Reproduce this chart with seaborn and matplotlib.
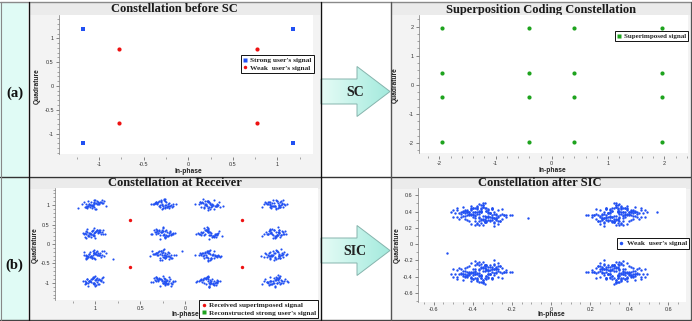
import numpy as np
import pandas as pd
import matplotlib
matplotlib.use("Agg")
import matplotlib.pyplot as plt
import seaborn as sns
from matplotlib.patches import Polygon, Rectangle
from matplotlib.lines import Line2D
from matplotlib.ticker import MultipleLocator, FuncFormatter
from matplotlib.colors import LinearSegmentedColormap

# ---------------- data ----------------
strong_x = [-1.18, 1.18, -1.18, 1.18]
strong_y = [1.19, 1.19, -1.19, -1.19]
weak_x = [-0.78, 0.77, -0.78, 0.77]
weak_y = [0.78, 0.78, -0.77, -0.77]

sc_x_levels = [-1.96, -0.40, 0.40, 1.96]
sc_y_levels = [1.96, 0.41, -0.41, -1.96]

rx_col_centers = [1.02, 0.25, -0.27, -1.00]
rx_row_centers = [1.02, 0.28, -0.28, -0.95]
rx_red_x = [0.62, -0.63, 0.62, -0.63]
rx_red_y = [0.61, 0.61, -0.60, -0.60]
rx_outlier_x = [1.19, 0.80, 0.04]
rx_outlier_y = [0.92, -0.38, -0.18]

sic_col_centers = [-0.36, 0.34]
sic_row_centers = [0.36, -0.34]
sic_outlier_x = [-0.12, -0.53, 0.54]
sic_outlier_y = [0.32, -0.11, 0.39]

# noise offsets read as a typical scatter (hundredths of a unit)
noise_dx = [3, -5, 8, -1, 0, 6, -9, 2, -4, 11, -2, 5, -7, 1, 4, -12, 7, -3, 0, 9,
            -6, 2, -1, 13, -8, 4, -3, 6, -10, 1, 5, -2, 8, -5, 0, -14, 3, 7, -1, -6,
            10, -4, 2, -9, 6, 1, -3, 15, -7, 4, -2, 0, 9, -11, 3, -5, 7, -1, 12, -8,
            2, -4, 5, -6, 1, 8, -13, 3, -2, 6, -9, 0, 4, -3, 11, -7, 2, -1, 5, -10,
            7, -2, 16, -5, 3, -8, 1, 6, -4, 9, -12, 2, -1, 4, -6, 10, -3, 0, 8, -7,
            1, 5, -15, 3, -2, 7, -9, 4, 0, -5, 12, -1, 6, -8, 2, -3, 9, -11, 5, 1,
            -4, 8, -6, 3, -10, 0, 7, -2, 13, -5, 4, -7, 1, 10, -3, 6, -9, 2, -1, 5,
            -8, 11, -4, 3, -14, 7, 0, -6, 9, -2, 4, -12, 6, 1, -5, 8, -3, 2, -7, 0]
noise_dy = [-2, 6, 1, -8, 4, -3, 10, -5, 0, 7, -11, 2, 5, -1, -6, 9, -4, 3, 12, -7,
            1, -9, 4, 0, 6, -2, -13, 8, 3, -5, 2, 11, -6, 0, 7, -3, 5, -10, 1, 4,
            -7, 9, -1, 3, -4, 14, -8, 0, 6, -2, 10, -5, -1, 2, -9, 7, 4, -12, 0, 5,
            8, -3, -6, 1, 12, -4, 2, -7, 9, 0, 3, -10, 6, -1, -5, 4, 15, -2, -8, 1,
            -4, 7, 0, -11, 5, 2, -6, 9, 1, -3, 6, -9, 13, -1, 3, -7, 0, 8, -5, 4,
            10, -2, 3, -8, 1, -14, 5, 2, -6, 11, 0, -4, 7, -1, -9, 3, 6, -5, 2, -12,
            4, 0, -7, 9, -3, 5, 1, -10, -2, 8, 3, -6, 12, 0, -4, 7, -1, -8, 5, 2,
            -5, 1, 9, -3, 6, -9, 4, 0, -11, 3, 7, -2, -6, 10, 1, -4, 8, -7, 0, 5]

titles = ["Constellation before SC", "Superposition Coding Constellation",
          "Constellation at Receiver", "Constellation after SIC"]

# ---------------- build point tables ----------------
n = min(len(noise_dx), len(noise_dy))
dx = np.array(noise_dx[:n]) / 100.0
dy = np.array(noise_dy[:n]) / 100.0
flips = [(1, 1), (-1, 1), (1, -1), (-1, -1)]

df_strong = pd.DataFrame({"x": strong_x, "y": strong_y})
df_weak = pd.DataFrame({"x": weak_x, "y": weak_y})
gx, gy = np.meshgrid(sc_x_levels, sc_y_levels)
df_sc = pd.DataFrame({"x": gx.ravel(), "y": gy.ravel()})

rx_x, rx_y = [], []
k = 0
for cy in rx_row_centers:
    for cx in rx_col_centers:
        idx = (np.arange(45) + k * 37) % n
        sx, sy = flips[k % 4]
        ox, oy = dx[idx], dy[idx]
        if (k // 4) % 2:
            ox, oy = oy, ox
        rx_x += list(cx + sx * ox)
        rx_y += list(cy + sy * oy)
        k += 1
rx_x += rx_outlier_x
rx_y += rx_outlier_y
df_rx = pd.DataFrame({"x": rx_x, "y": rx_y})
df_rx_red = pd.DataFrame({"x": rx_red_x, "y": rx_red_y})

sic_x, sic_y = [], []
k = 0
for cy in sic_row_centers:
    for cx in sic_col_centers:
        sx, sy = flips[k % 4]
        sic_x += list(cx + sx * dx)
        sic_y += list(cy + sy * dy)
        k += 1
sic_x += sic_outlier_x
sic_y += sic_outlier_y
df_sic = pd.DataFrame({"x": sic_x, "y": sic_y})

# ---------------- style ----------------
sns.set_style("white")
plt.rcParams["font.family"] = ["Liberation Sans", "DejaVu Sans"]
plt.rcParams["axes.unicode_minus"] = False

BLUE = "#2150f2"
RED = "#ee1111"
GREEN = "#1ea31e"
SERIF = ["Liberation Serif", "DejaVu Serif"]

W, H = 692, 321
fig = plt.figure(figsize=(W / 100, H / 100), dpi=100)
fig.patch.set_facecolor("white")
bg = fig.add_axes([0, 0, 1, 1], zorder=-10)
bg.axis("off")


def rect(x0, y0, x1, y1, color):
    bg.add_patch(Rectangle((x0, y0), x1 - x0, y1 - y0, facecolor=color,
                           edgecolor="none", zorder=1))


rect(0, 2, 28, 320, "#e0fbf5")
for (x0, x1) in [(29, 320), (391, 690)]:
    for (y0, y1) in [(3, 176), (177, 319)]:
        rect(x0, y0, x1, y1, "#f3f3f3")
        rect(x0, y0, x1, y0 + 12, "#ebebeb")

# frame lines
bg.plot([0, 691], [1.5, 1.5], color="#8a8a8a", lw=1.0, zorder=5)
bg.plot([0, 691], [319.5, 319.5], color="#444444", lw=1.0, zorder=5)
bg.plot([0, 691], [176.5, 176.5], color="#333333", lw=1.0, zorder=5)
bg.plot([28.5, 28.5], [1.5, 320], color="#111111", lw=1.0, zorder=5)
bg.plot([320.5, 320.5], [1.5, 320], color="#111111", lw=1.0, zorder=5)
bg.plot([391, 391], [1.5, 320], color="#555555", lw=1.0, zorder=5)
bg.plot([690.5, 690.5], [1.5, 320], color="#555555", lw=1.0, zorder=5)
bg.plot([0.5, 0.5], [1.5, 320], color="#888888", lw=0.8, zorder=5)

# arrows
cmap = LinearSegmentedColormap.from_list("aq", ["#e6fcf6", "#a3eadd"])
grad = np.linspace(0, 1, 256).reshape(1, -1)
for (cyc, label) in [(91.5, "SC"), (250.5, "SIC")]:
    pts = [(321, cyc - 12.5), (357, cyc - 12.5), (357, cyc - 25), (390, cyc),
           (357, cyc + 25), (357, cyc + 12.5), (321, cyc + 12.5)]
    poly = Polygon(pts, closed=True, facecolor="none", edgecolor="#86b4ad",
                   lw=0.7, zorder=4)
    bg.add_patch(poly)
    im = bg.imshow(grad, extent=(321, 390, cyc + 25, cyc - 25), cmap=cmap,
                   aspect="auto", zorder=3)
    im.set_clip_path(poly)
    bg.text(355, cyc + 1, label, fontsize=10, fontweight="bold", family=SERIF,
            ha="center", va="center", color="#222222", zorder=6)

bg.text(14.5, 93, "(a)", fontsize=10.5, fontweight="bold", family=SERIF,
        ha="center", va="center", color="#111111", zorder=6)
bg.text(14.5, 265, "(b)", fontsize=10.5, fontweight="bold", family=SERIF,
        ha="center", va="center", color="#111111", zorder=6)

title_pos = [(174.5, 9.5), (540.5, 9.5), (174.5, 183.5), (539.5, 183.5)]
for t, (tx, ty) in zip(titles, title_pos):
    bg.text(tx, ty, t, fontsize=9, fontweight="bold", family=SERIF,
            ha="center", va="center", color="#1a1a1a", zorder=6)

bg.set_xlim(0, W)
bg.set_ylim(H, 0)


def px_axes(x0, y0, x1, y1):
    return fig.add_axes([x0 / W, 1 - y1 / H, (x1 - x0) / W, (y1 - y0) / H])


def fmt(v, p):
    if abs(v) < 1e-9:
        return "0"
    return "%g" % round(v, 4)


def fmt_pos_only(v, p):
    # labels right of 0 lie beneath the legend in the reference
    if v < -1e-9:
        return ""
    return fmt(v, p)


def style(ax, box, xmaj, xmin, ymaj, ymin, xlab_px, ylab_px, outward, xfmt=fmt):
    x0, y0, x1, y1 = box
    ax.set_facecolor("white")
    for s in ["top", "right", "bottom"]:
        ax.spines[s].set_visible(False)
    ax.spines["left"].set_color("#777777")
    ax.spines["left"].set_linewidth(0.5)
    ax.spines["bottom"].set_position(("outward", outward))
    ax.xaxis.set_major_locator(MultipleLocator(xmaj))
    ax.xaxis.set_minor_locator(MultipleLocator(xmin))
    ax.yaxis.set_major_locator(MultipleLocator(ymaj))
    ax.yaxis.set_minor_locator(MultipleLocator(ymin))
    ax.xaxis.set_major_formatter(FuncFormatter(xfmt))
    ax.yaxis.set_major_formatter(FuncFormatter(fmt))
    ax.tick_params(which="major", direction="out", length=2.5, width=0.5,
                   color="#555555", labelsize=4, labelcolor="#333333", pad=1.2,
                   bottom=True, left=True)
    ax.tick_params(which="minor", direction="out", length=1.5, width=0.4,
                   color="#666666", bottom=True, left=True)
    ax.set_xlabel("In-phase", fontsize=4.8, fontweight="bold", color="#222222")
    ax.set_ylabel("Quadrature", fontsize=4.8, fontweight="bold", color="#222222")
    ax.xaxis.label.set_va("center")
    ax.yaxis.label.set_va("center")
    ax.yaxis.label.set_ha("center")
    ax.xaxis.set_label_coords((xlab_px[0] - x0) / (x1 - x0),
                              (y1 - xlab_px[1]) / (y1 - y0))
    ax.yaxis.set_label_coords((ylab_px[0] - x0) / (x1 - x0),
                              (y1 - ylab_px[1]) / (y1 - y0))


def legend(ax, handles, labels, corner_px, size=5.3):
    ax.legend(handles, labels, loc="upper right",
              bbox_to_anchor=(corner_px[0] / W, 1 - corner_px[1] / H),
              bbox_transform=fig.transFigure, frameon=True, fancybox=False,
              edgecolor="#111111", facecolor="white", framealpha=1,
              borderpad=0.3, labelspacing=0.2, handlelength=0.5,
              handletextpad=0.45, borderaxespad=0,
              prop={"family": SERIF, "weight": "bold", "size": size})
    ax.get_legend().get_frame().set_linewidth(0.7)


def proxy(marker, color):
    return Line2D([], [], linestyle="none", marker=marker, markersize=2.5,
                  markerfacecolor=color, markeredgecolor="none")


# ---- (a) left ----
boxA = (59, 15, 313, 154)
axA = px_axes(*boxA)
sns.scatterplot(data=df_strong, x="x", y="y", ax=axA, color=BLUE, marker="s",
                s=11, linewidth=0, legend=False)
sns.scatterplot(data=df_weak, x="x", y="y", ax=axA, color=RED, marker="o",
                s=9, linewidth=0, legend=False)
axA.set_xlim(-1.45, 1.40)
axA.set_ylim(-1.43, 1.49)
style(axA, boxA, 0.5, 0.25, 0.5, 0.1, (188, 171), (37, 86), 2)
legend(axA, [proxy("s", BLUE), proxy("o", RED)],
       ["Strong user's signal", "Weak  user's signal"], (314, 55))

# ---- (a) right ----
boxB = (419, 15, 688, 153)
axB = px_axes(*boxB)
sns.scatterplot(data=df_sc, x="x", y="y", ax=axB, color=GREEN, marker="o",
                s=9, linewidth=0, legend=False)
axB.set_xlim(-2.36, 2.42)
axB.set_ylim(-2.34, 2.40)
style(axB, boxB, 1, 0.2, 1, 0.25, (552, 171), (395, 85), 2)
legend(axB, [proxy("s", GREEN)], ["Superimposed signal"], (688, 31), size=5.0)

# ---- (b) left ----
boxC = (55, 188, 318, 300)
axC = px_axes(*boxC)
sns.scatterplot(data=df_rx, x="x", y="y", ax=axC, color=BLUE, marker="o",
                s=2.4, linewidth=0, legend=False)
sns.scatterplot(data=df_rx_red, x="x", y="y", ax=axC, color=RED, marker="o",
                s=6, linewidth=0, legend=False)
axC.set_xlim(1.45, -1.48)
axC.set_ylim(-1.44, 1.44)
style(axC, boxC, 0.5, 0.25, 0.5, 0.1, (185, 314), (35, 245), 0.5,
      xfmt=fmt_pos_only)
legend(axC, [proxy("o", RED), proxy("s", GREEN)],
       ["Received superimposed signal", "Reconstructed strong user's signal"],
       (318, 300))

# ---- (b) right ----
boxD = (418, 188, 686, 302)
axD = px_axes(*boxD)
sns.scatterplot(data=df_sic, x="x", y="y", ax=axD, color=BLUE, marker="o",
                s=3, linewidth=0, legend=False)
axD.set_xlim(-0.68, 0.69)
axD.set_ylim(-0.71, 0.69)
style(axD, boxD, 0.2, 0.05, 0.2, 0.1, (551, 315), (397, 245), 0)
legend(axD, [proxy("o", BLUE)], ["Weak  user's signal"], (689, 238))

fig.savefig("out.png", dpi=100, facecolor="white")
